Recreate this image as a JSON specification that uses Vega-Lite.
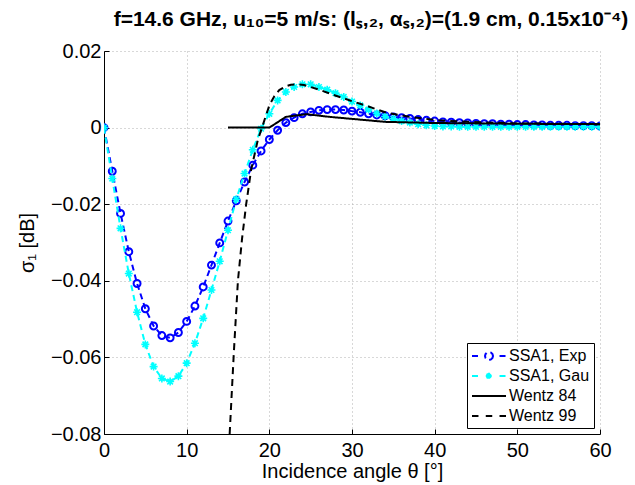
{
  "$schema": "https://vega.github.io/schema/vega-lite/v6.json",
  "width": 496,
  "height": 383,
  "autosize": {"type": "none"},
  "padding": {"left": 104, "right": 35, "top": 51, "bottom": 51},
  "background": "white",
  "title": {
    "text": "f=14.6 GHz, u₁₀=5 m/s: (lₛ,₂, αₛ,₂)=(1.9 cm, 0.15x10⁻⁴)",
    "font": "Liberation Sans",
    "fontSize": 21,
    "fontWeight": "bold",
    "color": "#000",
    "anchor": "middle",
    "dx": 19,
    "offset": 11
  },
  "config": {
    "view": {"stroke": null},
    "axis": {
      "domainColor": "#000",
      "tickColor": "#000",
      "labelColor": "#000",
      "titleColor": "#000",
      "labelFont": "Liberation Sans",
      "titleFont": "Liberation Sans",
      "labelFontSize": 20,
      "titleFontSize": 20,
      "titleFontWeight": "normal",
      "gridColor": "#b0b0b0",
      "gridDash": [1, 3],
      "gridWidth": 1,
      "tickSize": -5,
      "domainWidth": 1
    },
    "legend": {
      "labelFont": "Liberation Sans",
      "labelFontSize": 16,
      "labelColor": "#000"
    }
  },
  "data": {
    "values": [
      {"series": "SSA1, Exp", "theta": 0, "sigma": 0},
      {"series": "SSA1, Exp", "theta": 1, "sigma": -0.0114},
      {"series": "SSA1, Exp", "theta": 2, "sigma": -0.0224},
      {"series": "SSA1, Exp", "theta": 3, "sigma": -0.0324},
      {"series": "SSA1, Exp", "theta": 4, "sigma": -0.0407},
      {"series": "SSA1, Exp", "theta": 5, "sigma": -0.0473},
      {"series": "SSA1, Exp", "theta": 6, "sigma": -0.0518},
      {"series": "SSA1, Exp", "theta": 7, "sigma": -0.0543},
      {"series": "SSA1, Exp", "theta": 8, "sigma": -0.0549},
      {"series": "SSA1, Exp", "theta": 9, "sigma": -0.0535},
      {"series": "SSA1, Exp", "theta": 10, "sigma": -0.0506},
      {"series": "SSA1, Exp", "theta": 11, "sigma": -0.0466},
      {"series": "SSA1, Exp", "theta": 12, "sigma": -0.0416},
      {"series": "SSA1, Exp", "theta": 13, "sigma": -0.0359},
      {"series": "SSA1, Exp", "theta": 14, "sigma": -0.0301},
      {"series": "SSA1, Exp", "theta": 15, "sigma": -0.0244},
      {"series": "SSA1, Exp", "theta": 16, "sigma": -0.0191},
      {"series": "SSA1, Exp", "theta": 17, "sigma": -0.0142},
      {"series": "SSA1, Exp", "theta": 18, "sigma": -0.0098},
      {"series": "SSA1, Exp", "theta": 19, "sigma": -0.0061},
      {"series": "SSA1, Exp", "theta": 20, "sigma": -0.0031},
      {"series": "SSA1, Exp", "theta": 21, "sigma": -0.0007},
      {"series": "SSA1, Exp", "theta": 22, "sigma": 0.0013},
      {"series": "SSA1, Exp", "theta": 23, "sigma": 0.0026},
      {"series": "SSA1, Exp", "theta": 24, "sigma": 0.0036},
      {"series": "SSA1, Exp", "theta": 25, "sigma": 0.0041},
      {"series": "SSA1, Exp", "theta": 26, "sigma": 0.0045},
      {"series": "SSA1, Exp", "theta": 27, "sigma": 0.0047},
      {"series": "SSA1, Exp", "theta": 28, "sigma": 0.0047},
      {"series": "SSA1, Exp", "theta": 29, "sigma": 0.0046},
      {"series": "SSA1, Exp", "theta": 30, "sigma": 0.0043},
      {"series": "SSA1, Exp", "theta": 31, "sigma": 0.0040},
      {"series": "SSA1, Exp", "theta": 32, "sigma": 0.0036},
      {"series": "SSA1, Exp", "theta": 33, "sigma": 0.0033},
      {"series": "SSA1, Exp", "theta": 34, "sigma": 0.0031},
      {"series": "SSA1, Exp", "theta": 35, "sigma": 0.0028},
      {"series": "SSA1, Exp", "theta": 36, "sigma": 0.0026},
      {"series": "SSA1, Exp", "theta": 37, "sigma": 0.0024},
      {"series": "SSA1, Exp", "theta": 38, "sigma": 0.0021},
      {"series": "SSA1, Exp", "theta": 39, "sigma": 0.0019},
      {"series": "SSA1, Exp", "theta": 40, "sigma": 0.0017},
      {"series": "SSA1, Exp", "theta": 41, "sigma": 0.0015},
      {"series": "SSA1, Exp", "theta": 42, "sigma": 0.0014},
      {"series": "SSA1, Exp", "theta": 43, "sigma": 0.0013},
      {"series": "SSA1, Exp", "theta": 44, "sigma": 0.0012},
      {"series": "SSA1, Exp", "theta": 45, "sigma": 0.0011},
      {"series": "SSA1, Exp", "theta": 46, "sigma": 0.0010},
      {"series": "SSA1, Exp", "theta": 47, "sigma": 0.0010},
      {"series": "SSA1, Exp", "theta": 48, "sigma": 0.0009},
      {"series": "SSA1, Exp", "theta": 49, "sigma": 0.0009},
      {"series": "SSA1, Exp", "theta": 50, "sigma": 0.0008},
      {"series": "SSA1, Exp", "theta": 51, "sigma": 0.0008},
      {"series": "SSA1, Exp", "theta": 52, "sigma": 0.0007},
      {"series": "SSA1, Exp", "theta": 53, "sigma": 0.0007},
      {"series": "SSA1, Exp", "theta": 54, "sigma": 0.0006},
      {"series": "SSA1, Exp", "theta": 55, "sigma": 0.0006},
      {"series": "SSA1, Exp", "theta": 56, "sigma": 0.0006},
      {"series": "SSA1, Exp", "theta": 57, "sigma": 0.0005},
      {"series": "SSA1, Exp", "theta": 58, "sigma": 0.0005},
      {"series": "SSA1, Exp", "theta": 59, "sigma": 0.0005},
      {"series": "SSA1, Exp", "theta": 60, "sigma": 0.0004},
      {"series": "SSA1, Gau", "theta": 0, "sigma": 0},
      {"series": "SSA1, Gau", "theta": 1, "sigma": -0.0133},
      {"series": "SSA1, Gau", "theta": 2, "sigma": -0.0263},
      {"series": "SSA1, Gau", "theta": 3, "sigma": -0.0381},
      {"series": "SSA1, Gau", "theta": 4, "sigma": -0.0482},
      {"series": "SSA1, Gau", "theta": 5, "sigma": -0.0566},
      {"series": "SSA1, Gau", "theta": 6, "sigma": -0.0624},
      {"series": "SSA1, Gau", "theta": 7, "sigma": -0.0655},
      {"series": "SSA1, Gau", "theta": 8, "sigma": -0.0663},
      {"series": "SSA1, Gau", "theta": 9, "sigma": -0.0649},
      {"series": "SSA1, Gau", "theta": 10, "sigma": -0.0615},
      {"series": "SSA1, Gau", "theta": 11, "sigma": -0.0563},
      {"series": "SSA1, Gau", "theta": 12, "sigma": -0.0498},
      {"series": "SSA1, Gau", "theta": 13, "sigma": -0.0424},
      {"series": "SSA1, Gau", "theta": 14, "sigma": -0.0349},
      {"series": "SSA1, Gau", "theta": 15, "sigma": -0.0268},
      {"series": "SSA1, Gau", "theta": 16, "sigma": -0.0187},
      {"series": "SSA1, Gau", "theta": 17, "sigma": -0.0120},
      {"series": "SSA1, Gau", "theta": 18, "sigma": -0.0058},
      {"series": "SSA1, Gau", "theta": 19, "sigma": -0.0003},
      {"series": "SSA1, Gau", "theta": 20, "sigma": 0.0036},
      {"series": "SSA1, Gau", "theta": 21, "sigma": 0.0071},
      {"series": "SSA1, Gau", "theta": 22, "sigma": 0.0093},
      {"series": "SSA1, Gau", "theta": 23, "sigma": 0.0106},
      {"series": "SSA1, Gau", "theta": 24, "sigma": 0.0113},
      {"series": "SSA1, Gau", "theta": 25, "sigma": 0.0113},
      {"series": "SSA1, Gau", "theta": 26, "sigma": 0.0106},
      {"series": "SSA1, Gau", "theta": 27, "sigma": 0.0099},
      {"series": "SSA1, Gau", "theta": 28, "sigma": 0.0090},
      {"series": "SSA1, Gau", "theta": 29, "sigma": 0.0080},
      {"series": "SSA1, Gau", "theta": 30, "sigma": 0.0068},
      {"series": "SSA1, Gau", "theta": 31, "sigma": 0.0058},
      {"series": "SSA1, Gau", "theta": 32, "sigma": 0.0047},
      {"series": "SSA1, Gau", "theta": 33, "sigma": 0.0037},
      {"series": "SSA1, Gau", "theta": 34, "sigma": 0.0029},
      {"series": "SSA1, Gau", "theta": 35, "sigma": 0.0023},
      {"series": "SSA1, Gau", "theta": 36, "sigma": 0.0017},
      {"series": "SSA1, Gau", "theta": 37, "sigma": 0.0013},
      {"series": "SSA1, Gau", "theta": 38, "sigma": 0.0009},
      {"series": "SSA1, Gau", "theta": 39, "sigma": 0.0006},
      {"series": "SSA1, Gau", "theta": 40, "sigma": 0.0004},
      {"series": "SSA1, Gau", "theta": 41, "sigma": 0.0003},
      {"series": "SSA1, Gau", "theta": 42, "sigma": 0.0003},
      {"series": "SSA1, Gau", "theta": 43, "sigma": 0.0002},
      {"series": "SSA1, Gau", "theta": 44, "sigma": 0.0002},
      {"series": "SSA1, Gau", "theta": 45, "sigma": 0.0002},
      {"series": "SSA1, Gau", "theta": 46, "sigma": 0.0002},
      {"series": "SSA1, Gau", "theta": 47, "sigma": 0.0002},
      {"series": "SSA1, Gau", "theta": 48, "sigma": 0.0002},
      {"series": "SSA1, Gau", "theta": 49, "sigma": 0.0002},
      {"series": "SSA1, Gau", "theta": 50, "sigma": 0.0002},
      {"series": "SSA1, Gau", "theta": 51, "sigma": 0.0002},
      {"series": "SSA1, Gau", "theta": 52, "sigma": 0.0002},
      {"series": "SSA1, Gau", "theta": 53, "sigma": 0.0002},
      {"series": "SSA1, Gau", "theta": 54, "sigma": 0.0002},
      {"series": "SSA1, Gau", "theta": 55, "sigma": 0.0002},
      {"series": "SSA1, Gau", "theta": 56, "sigma": 0.0002},
      {"series": "SSA1, Gau", "theta": 57, "sigma": 0.0002},
      {"series": "SSA1, Gau", "theta": 58, "sigma": 0.0002},
      {"series": "SSA1, Gau", "theta": 59, "sigma": 0.0002},
      {"series": "SSA1, Gau", "theta": 60, "sigma": 0.0002},
      {"series": "Wentz 84", "theta": 15, "sigma": 0},
      {"series": "Wentz 84", "theta": 20, "sigma": 0},
      {"series": "Wentz 84", "theta": 22, "sigma": 0.0028},
      {"series": "Wentz 84", "theta": 24.5, "sigma": 0.0035},
      {"series": "Wentz 84", "theta": 27.3, "sigma": 0.0028},
      {"series": "Wentz 84", "theta": 34, "sigma": 0.0015},
      {"series": "Wentz 84", "theta": 40, "sigma": 0.0012},
      {"series": "Wentz 84", "theta": 50, "sigma": 0.0010},
      {"series": "Wentz 84", "theta": 60, "sigma": 0.0009},
      {"series": "Wentz 99", "theta": 15.2, "sigma": -0.08},
      {"series": "Wentz 99", "theta": 15.7, "sigma": -0.059},
      {"series": "Wentz 99", "theta": 16.2, "sigma": -0.040},
      {"series": "Wentz 99", "theta": 16.7, "sigma": -0.029},
      {"series": "Wentz 99", "theta": 17.2, "sigma": -0.020},
      {"series": "Wentz 99", "theta": 17.8, "sigma": -0.011},
      {"series": "Wentz 99", "theta": 18.6, "sigma": -0.0033},
      {"series": "Wentz 99", "theta": 19.4, "sigma": 0.0019},
      {"series": "Wentz 99", "theta": 20.0, "sigma": 0.0058},
      {"series": "Wentz 99", "theta": 20.6, "sigma": 0.0082},
      {"series": "Wentz 99", "theta": 21.2, "sigma": 0.0098},
      {"series": "Wentz 99", "theta": 21.9, "sigma": 0.0107},
      {"series": "Wentz 99", "theta": 22.6, "sigma": 0.0112},
      {"series": "Wentz 99", "theta": 23.3, "sigma": 0.0113},
      {"series": "Wentz 99", "theta": 24.2, "sigma": 0.0111},
      {"series": "Wentz 99", "theta": 25, "sigma": 0.0106},
      {"series": "Wentz 99", "theta": 26, "sigma": 0.0099},
      {"series": "Wentz 99", "theta": 27.7, "sigma": 0.0086},
      {"series": "Wentz 99", "theta": 30, "sigma": 0.0069},
      {"series": "Wentz 99", "theta": 32, "sigma": 0.0055},
      {"series": "Wentz 99", "theta": 34.3, "sigma": 0.0038},
      {"series": "Wentz 99", "theta": 37.3, "sigma": 0.0027},
      {"series": "Wentz 99", "theta": 40.5, "sigma": 0.0019},
      {"series": "Wentz 99", "theta": 44, "sigma": 0.0015},
      {"series": "Wentz 99", "theta": 50, "sigma": 0.0011},
      {"series": "Wentz 99", "theta": 55, "sigma": 0.0010},
      {"series": "Wentz 99", "theta": 60, "sigma": 0.0009}
    ]
  },
  "encoding": {
    "x": {
      "field": "theta",
      "type": "quantitative",
      "scale": {"domain": [0, 60], "nice": false, "zero": false},
      "axis": {
        "title": "Incidence angle θ [°]",
        "values": [0, 10, 20, 30, 40, 50, 60],
        "labelPadding": 11,
        "titlePadding": 1,
        "labelFlush": false
      }
    },
    "y": {
      "field": "sigma",
      "type": "quantitative",
      "scale": {"domain": [-0.08, 0.02], "nice": false, "zero": false},
      "axis": {
        "title": "σ₁ [dB]",
        "values": [-0.08, -0.06, -0.04, -0.02, 0, 0.02],
        "labelExpr": "datum.value == 0 ? '0' : format(datum.value, '.2f')",
        "labelPadding": 8,
        "titlePadding": 13,
        "labelFlush": false
      }
    }
  },
  "layer": [
    {
      "transform": [{"filter": "datum.series == 'SSA1, Exp'"}],
      "mark": {"type": "line", "strokeWidth": 2, "clip": true},
      "encoding": {
        "color": {
          "field": "series",
          "type": "nominal",
          "scale": {
            "domain": ["SSA1, Exp", "SSA1, Gau", "Wentz 84", "Wentz 99"],
            "range": ["#0000ff", "#00ffff", "#000000", "#000000"]
          },
          "legend": {
            "title": null,
            "orient": "bottom-right",
            "offset": 6,
            "padding": 4,
            "rowPadding": 3,
            "symbolSize": 256,
            "symbolStrokeWidth": 2,
            "labelOffset": 20,
            "strokeColor": "#000",
            "fillColor": "#fff",
            "cornerRadius": 0,
            "encode": {
              "symbols": {
                "update": {
                  "shape": {"signal": "datum.value === 'SSA1, Exp' ? 'M-1,0H-0.19M2.44,0H3.25M1.625,0L1.558,0.25L1.375,0.433L1.125,0.5L0.875,0.433L0.692,0.25L0.625,0L0.692,-0.25L0.875,-0.433L1.125,-0.5L1.375,-0.433L1.558,-0.25Z' : datum.value === 'SSA1, Gau' ? 'M-1,0H-0.19M2.44,0H3.25M0.72,0H1.53M1.125,-0.42V0.42M0.83,-0.3L1.42,0.3M0.83,0.3L1.42,-0.3' : datum.value === 'Wentz 84' ? 'M-1,0H3.25' : 'M-1,0H-0.19M0.72,0H1.53M2.44,0H3.25'"},
                  "fill": {"value": "transparent"},
                  "strokeDash": {"value": []},
                  "strokeWidth": {"value": 2}
                }
              }
            }
          }
        },
        "strokeDash": {
          "field": "series",
          "type": "nominal",
          "scale": {
            "domain": ["SSA1, Exp", "SSA1, Gau", "Wentz 84", "Wentz 99"],
            "range": [[6, 4], [6, 4], [1, 0], [7, 5]]
          },
          "legend": null
        }
      }
    },
    {
      "transform": [{"filter": "datum.series == 'SSA1, Exp'"}],
      "mark": {"type": "point", "shape": "circle", "filled": false, "stroke": "#0000ff", "strokeWidth": 2, "size": 48, "opacity": 1, "clip": true}
    },
    {
      "transform": [{"filter": "datum.series == 'SSA1, Gau'"}],
      "mark": {"type": "line", "strokeWidth": 2, "clip": true},
      "encoding": {
        "color": {"field": "series", "type": "nominal"},
        "strokeDash": {"field": "series", "type": "nominal", "legend": null}
      }
    },
    {
      "transform": [{"filter": "datum.series == 'SSA1, Gau'"}],
      "mark": {"type": "point", "shape": "M-1,0L1,0M0,-1L0,1M-0.7,-0.7L0.7,0.7M-0.7,0.7L0.7,-0.7", "filled": false, "stroke": "#00ffff", "strokeWidth": 1.6, "size": 64, "opacity": 1, "clip": true}
    },
    {
      "transform": [{"filter": "datum.series == 'Wentz 84' || datum.series == 'Wentz 99'"}],
      "mark": {"type": "line", "strokeWidth": 2, "clip": true},
      "encoding": {
        "color": {"field": "series", "type": "nominal"},
        "strokeDash": {"field": "series", "type": "nominal", "legend": null}
      }
    }
  ]
}
